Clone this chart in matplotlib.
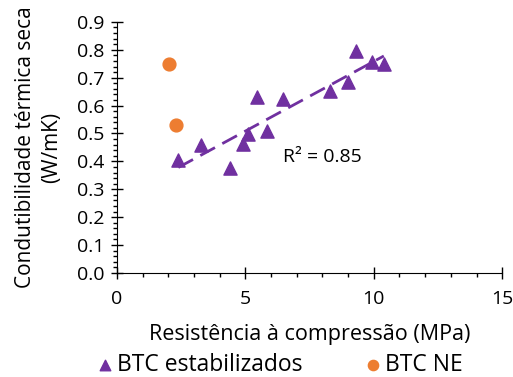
import numpy as np
import matplotlib.pyplot as plt
from matplotlib.ticker import MultipleLocator

plt.rcParams['font.family'] = ['Open Sans', 'DejaVu Sans']

# BTC estabilizados
estab_x = [2.39, 3.26, 4.40, 4.92, 5.11, 5.47, 5.86, 6.47, 8.31, 9.00, 9.30, 9.93, 10.39]
estab_y = [0.405, 0.459, 0.375, 0.461, 0.498, 0.630, 0.510, 0.623, 0.653, 0.686, 0.797, 0.755, 0.748]

# BTC NE
ne_x = [2.04, 2.30]
ne_y = [0.748, 0.531]

purple = "#7030A0"
orange = "#ED7D31"

fig = plt.figure(figsize=(5.13, 3.77), dpi=100)
ax = fig.add_axes([0.228, 0.276, 0.751, 0.666])

ax.scatter(estab_x, estab_y, marker="^", s=90, color=purple, zorder=3,
           label="BTC estabilizados")
ax.scatter(ne_x, ne_y, marker="o", s=85, color=orange, zorder=3, label="BTC NE")

# linear trendline
coef = np.polyfit(estab_x, estab_y, 1)
xs = np.array([min(estab_x), max(estab_x)])
ax.plot(xs, np.polyval(coef, xs), color=purple, lw=2, dashes=(6, 3), zorder=2)
ax.text(6.45, 0.415, "R² = 0.85", fontsize=14, ha="left", va="center")

ax.set_xlim(0, 15)
ax.set_ylim(0, 0.9)
ax.xaxis.set_major_locator(MultipleLocator(5))
ax.xaxis.set_minor_locator(MultipleLocator(1))
ax.yaxis.set_major_locator(MultipleLocator(0.1))
ax.yaxis.set_minor_locator(MultipleLocator(0.02))
ax.yaxis.set_major_formatter(plt.FormatStrFormatter("%.1f"))
ax.tick_params(which="major", direction="inout", length=8, width=1, labelsize=14)
ax.tick_params(which="minor", direction="out", length=3, width=1)
ax.tick_params(axis="x", pad=8)
ax.tick_params(axis="y", pad=5)
for s in ["top", "right"]:
    ax.spines[s].set_visible(False)

ax.set_xlabel("Resistência à compressão (MPa)", fontsize=15.5, labelpad=12)
ax.set_ylabel("Condutibilidade térmica seca\n(W/mK)", fontsize=15, labelpad=11,
              linespacing=1.3)

fig.legend(loc="lower left", bbox_to_anchor=(0.143, -0.056), ncol=2, frameon=False,
           fontsize=16.5, handletextpad=0.0, columnspacing=2.6, handlelength=1.0,
           markerscale=0.8)

fig.savefig("out.png", dpi=100)
